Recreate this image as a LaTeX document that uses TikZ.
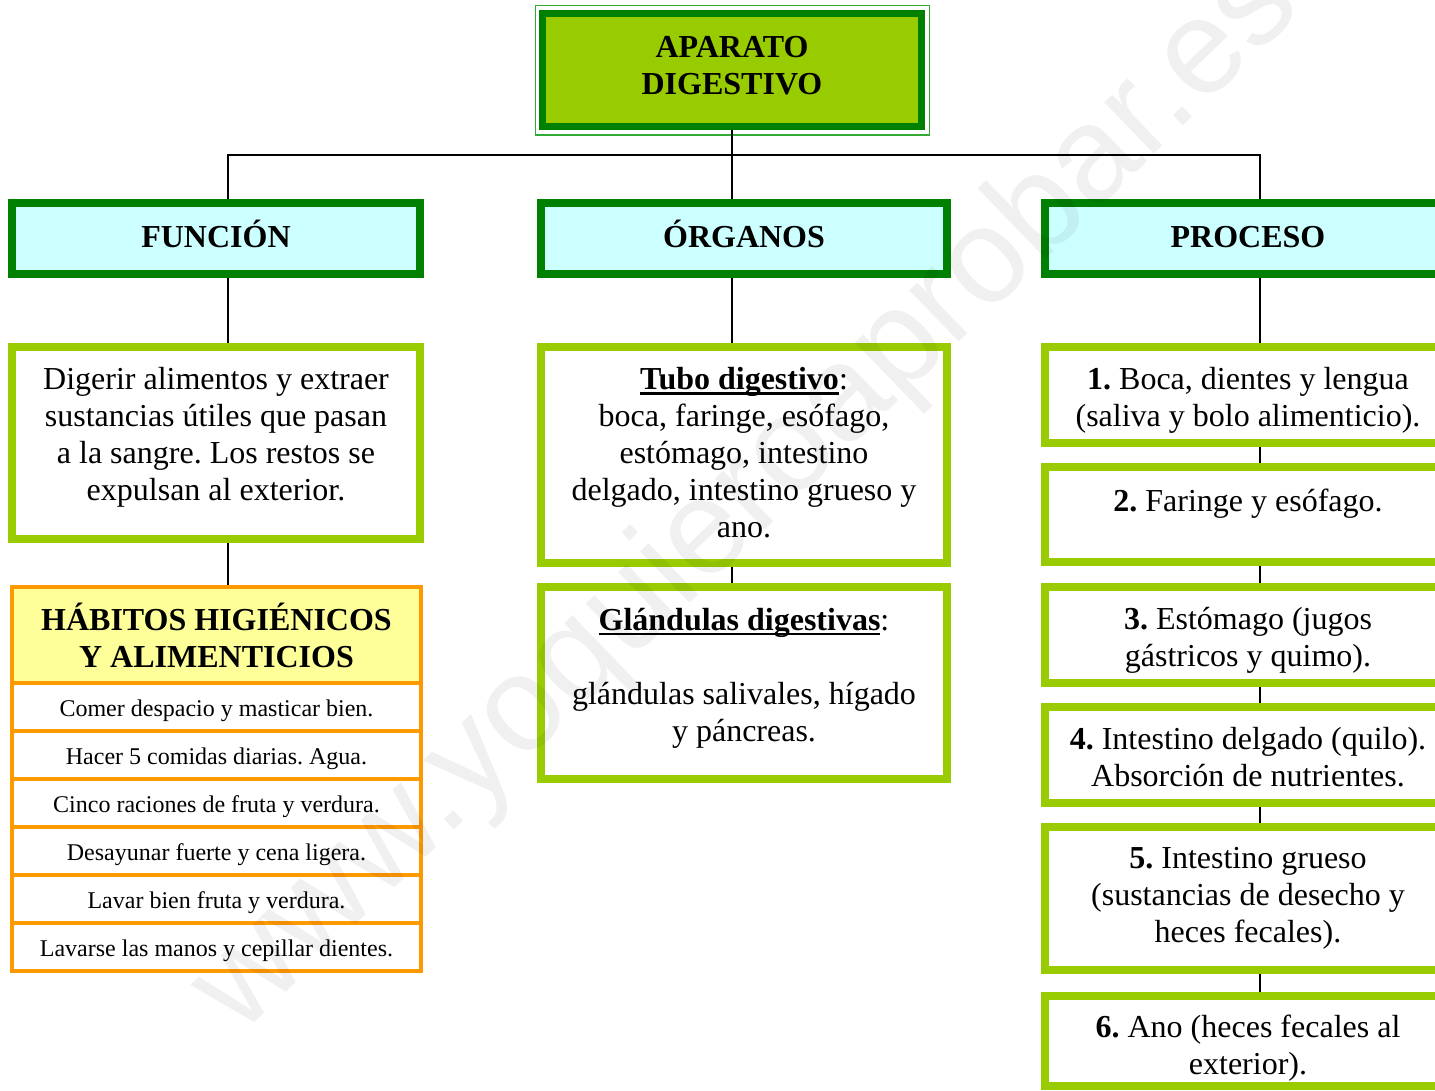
\documentclass[tikz,border=0pt]{standalone}
\usepackage{fontspec}
\setmainfont{Liberation Serif}
\newfontfamily\wmfont{Liberation Sans}
\usetikzlibrary{calc}
\frenchspacing
\definecolor{dkgreen}{HTML}{008000}
\definecolor{lime}{HTML}{99CC00}
\definecolor{hcyan}{HTML}{CCFFFF}
\definecolor{horange}{HTML}{FF9900}
\definecolor{hyellow}{HTML}{FFFF99}
\definecolor{thinframe}{HTML}{33AA33}
\newcommand{\myul}[1]{\setbox0\hbox{#1}\rlap{\rule[-5pt]{\wd0}{2.5pt}}\box0}
\tikzset{
  bodyfont/.style={font=\fontsize{32}{37}\selectfont},
  topbox/.style={draw=dkgreen, line width=7pt, fill=lime, align=center, inner sep=0pt,
    font=\fontsize{32}{37}\selectfont\bfseries, minimum width=379pt, minimum height=113pt},
  hdr/.style={draw=dkgreen, line width=8pt, fill=hcyan, inner sep=0pt,
    text height=24pt, text depth=7pt,
    font=\fontsize{32}{37}\selectfont\bfseries, minimum width=406pt, minimum height=71pt},
  txtbox/.style={draw=lime, line width=8pt, fill=white, align=center, inner sep=0pt,
    bodyfont, minimum width=406pt},
  habtitle/.style={draw=horange, line width=4pt, fill=hyellow, align=center, inner sep=0pt,
    font=\fontsize{32}{37}\selectfont\bfseries, minimum width=409pt, minimum height=96pt},
  habrow/.style={draw=horange, line width=4pt, fill=white, inner sep=0pt,
    text height=22pt, text depth=4pt,
    font=\fontsize{24}{28}\selectfont, minimum width=409pt, minimum height=48pt},
  conn/.style={draw=black, line width=1.8pt},
  wm/.style={font=\wmfont\fontsize{135}{135}\selectfont, text=black, opacity=0.06, inner sep=0pt}
}
\begin{document}
\begin{tikzpicture}[x=1pt,y=-1pt]
\useasboundingbox (0,0) rectangle (1435,1090);
\clip (0,0) rectangle (1435,1090);
\fill[white] (0,0) rectangle (1435,1090);

% top box
\node[topbox] (top) at (732,70) {APARATO\\DIGESTIVO\\[-27pt]\mbox{}};
\draw[thinframe, line width=1.5pt] ($(top.north west)+(-3.5,-4.5)$) rectangle ($(top.south east)+(4.5,5)$);

% headers
\node[hdr, minimum width=408pt] (fun) at (216,238.5) {FUNCIÓN};
\node[hdr] (org) at (744,238.5) {ÓRGANOS};
\node[hdr] (proc) at (1248,238.5) {PROCESO};

% function column
\node[txtbox, minimum width=408pt, minimum height=192pt] (funtext) at (216,443)
  {Digerir alimentos y extraer\\sustancias útiles que pasan\\a la sangre. Los restos se\\expulsan al exterior.\\[-19pt]\mbox{}};
\node[habtitle] (hab) at (216.5,635) {HÁBITOS HIGIÉNICOS\\Y ALIMENTICIOS};
\node[habrow] (h1) at (216.5,707) {Comer despacio y masticar bien.};
\node[habrow] (h2) at (216.5,755) {Hacer 5 comidas diarias. Agua.};
\node[habrow] (h3) at (216.5,803) {Cinco raciones de fruta y verdura.};
\node[habrow] (h4) at (216.5,851) {Desayunar fuerte y cena ligera.};
\node[habrow] (h5) at (216.5,899) {Lavar bien fruta y verdura.};
\node[habrow] (h6) at (216.5,947) {Lavarse las manos y cepillar dientes.};

% organs column
\node[txtbox, minimum height=216pt] (tubo) at (744,455)
  {\textbf{\myul{Tubo digestivo}}:\\boca, faringe, esófago,\\estómago, intestino\\delgado, intestino grueso y\\ano.\\[-32pt]\mbox{}};
\node[txtbox, minimum height=192pt] (gland) at (744,683)
  {\textbf{\myul{Glándulas digestivas}}:\\[37pt]glándulas salivales, hígado\\y páncreas.\\[-20pt]\mbox{}};

% process column
\node[txtbox, minimum height=96pt] (p1) at (1248,395) {\mbox{}\\[-5pt]\textbf{1.} Boca, dientes y lengua\\(saliva y bolo alimenticio).};
\node[txtbox, minimum height=95pt] (p2) at (1248,514.5) {\textbf{2.} Faringe y esófago.\\[-9pt]\mbox{}};
\node[txtbox, minimum height=96pt] (p3) at (1248,635) {\mbox{}\\[-5pt]\textbf{3.} Estómago (jugos\\gástricos y quimo).};
\node[txtbox, minimum height=96pt] (p4) at (1248,755) {\mbox{}\\[-11pt]\textbf{4.} Intestino delgado (quilo).\\Absorción de nutrientes.};
\node[txtbox, minimum height=143pt] (p5) at (1248,898.5) {\textbf{5.} Intestino grueso\\(sustancias de desecho y\\heces fecales).};
\node[txtbox, minimum height=90pt] (p6) at (1248,1041) {\mbox{}\\[-1pt]\textbf{6.} Ano (heces fecales al\\exterior).};

% connectors
\coordinate (xL) at (228,155);
\coordinate (xC) at (732,155);
\coordinate (xR) at (1260,155);
\draw[conn] (top.south -| xC) -- (xC);
\draw[conn] (xL |- fun.north) -- (xL) -- (xR) -- (xR |- proc.north);
\draw[conn] (xC) -- (xC |- org.north);
\draw[conn] (xL |- fun.south) -- (xL |- funtext.north);
\draw[conn] (xL |- funtext.south) -- (xL |- hab.north);
\draw[conn] (xC |- org.south) -- (xC |- tubo.north);
\draw[conn] (xC |- tubo.south) -- (xC |- gland.north);
\draw[conn] (xR |- proc.south) -- (xR |- p1.north);
\draw[conn] (xR |- p1.south) -- (xR |- p2.north);
\draw[conn] (xR |- p2.south) -- (xR |- p3.north);
\draw[conn] (xR |- p3.south) -- (xR |- p4.north);
\draw[conn] (xR |- p4.south) -- (xR |- p5.north);
\draw[conn] (xR |- p5.south) -- (xR |- p6.north);

% watermark
\node[wm, rotate=44] (wmk) at (748,498) {www.yoquieroaprobar.es};
\end{tikzpicture}
\end{document}
